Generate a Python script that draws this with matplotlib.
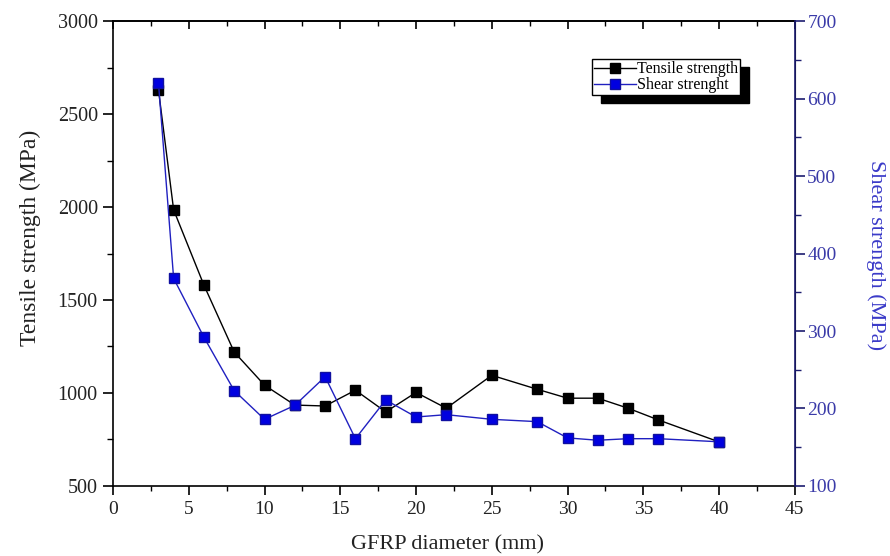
import matplotlib
matplotlib.use("Agg")
import matplotlib.pyplot as plt
from matplotlib.patches import Rectangle
from matplotlib.ticker import MultipleLocator

plt.rcParams['font.family'] = ['Liberation Serif', 'DejaVu Serif']

# data
diameter = [3, 4, 6, 8, 10, 12, 14, 16, 18, 20, 22, 25, 28, 30, 32, 34, 36, 40]
tensile = [2630, 1985, 1580, 1220, 1042, 935, 930, 1015, 898, 1003, 918, 1095, 1020, 972, 972, 918, 855, 737]
shear = [620, 368, 292, 223, 186, 204, 241, 161, 211, 189, 192, 186, 183, 162, 159, 161, 161, 157]

navy = "#1c1c70"
blue_txt = "#3a3aa8"

fig = plt.figure(figsize=(8.9, 5.56), dpi=100)
ax = fig.add_axes([0.127, 0.126, 0.766, 0.836])
ax2 = ax.twinx()

l1, = ax.plot(diameter, tensile, color="black", lw=1, marker="s", ms=7,
              mfc="black", mec="black", label="Tensile strength", zorder=3)
l2, = ax2.plot(diameter, shear, color="#2020c0", lw=1, marker="s", ms=7,
               mfc="#0000e0", mec="#1010a0", label="Shear strenght", zorder=3)

ax.set_xlim(0, 45)
ax.set_ylim(500, 3000)
ax2.set_ylim(100, 700)

ax.xaxis.set_major_locator(MultipleLocator(5))
ax.xaxis.set_minor_locator(MultipleLocator(2.5))
ax.yaxis.set_major_locator(MultipleLocator(500))
ax.yaxis.set_minor_locator(MultipleLocator(250))
ax2.yaxis.set_major_locator(MultipleLocator(100))
ax2.yaxis.set_minor_locator(MultipleLocator(50))

ax.tick_params(axis="x", which="both", direction="out", top=False, labelsize=14,
               colors="black", labelcolor="#222222")
ax.tick_params(axis="x", which="major", length=6.5, width=1.2, pad=4)
ax.tick_params(axis="x", which="minor", length=3.5, width=1)
ax.tick_params(axis="y", which="major", direction="out", length=7, width=1.2,
               labelsize=14.5, pad=4, labelcolor="#222222")
ax.tick_params(axis="y", which="minor", direction="out", length=4, width=1)

# top axis ticks pointing inward, no labels
top = ax.secondary_xaxis("top")
top.xaxis.set_major_locator(MultipleLocator(5))
top.xaxis.set_minor_locator(MultipleLocator(2.5))
top.tick_params(which="both", direction="in", labeltop=False)
top.tick_params(which="major", length=6, width=1.2)
top.tick_params(which="minor", length=3.5, width=1)
top.spines["top"].set_linewidth(1.2)

ax2.tick_params(axis="y", which="major", direction="out", length=7, width=1.2,
                labelsize=14, pad=2, colors=navy, labelcolor=blue_txt)
ax2.tick_params(axis="y", which="minor", direction="out", length=4, width=1, colors=navy)
ax2.spines["right"].set_color(navy)
ax2.spines["right"].set_linewidth(1.2)
for s in ["left", "bottom", "top"]:
    ax.spines[s].set_linewidth(1.2)
ax2.spines["left"].set_visible(False)
ax2.spines["bottom"].set_visible(False)
ax2.spines["top"].set_visible(False)

ax.set_xlabel("GFRP diameter (mm)", fontsize=16, color="#222222")
ax.set_ylabel("Tensile strength (MPa)", fontsize=17, color="#222222")
ax2.set_ylabel("Shear strength (MPa)", fontsize=16, color="#3a3ac8", rotation=270, va="bottom")
ax.xaxis.set_label_coords(0.49, -0.105)
ax.yaxis.set_label_coords(-0.106, 0.533)
ax2.yaxis.set_label_coords(1.104, 0.497)

leg = ax2.legend(handles=[l1, l2], loc="upper left", bbox_to_anchor=(0.703, 0.918),
                 frameon=True, fancybox=False, edgecolor="black", framealpha=1,
                 fontsize=11.5, handlelength=2.6, handletextpad=0.1, borderpad=0.12,
                 labelspacing=0.0, borderaxespad=0)
leg.get_frame().set_linewidth(1)
leg.set_zorder(10)

# solid shadow offset like the reference
fig.canvas.draw()
bb = leg.get_window_extent().transformed(fig.transFigure.inverted())
shadow = Rectangle((bb.x0 + 9 / 890, bb.y0 - 8 / 556), bb.width, bb.height,
                   transform=fig.transFigure, color="black", zorder=9, clip_on=False)
ax2.add_patch(shadow)

fig.savefig("out.png", dpi=100)
